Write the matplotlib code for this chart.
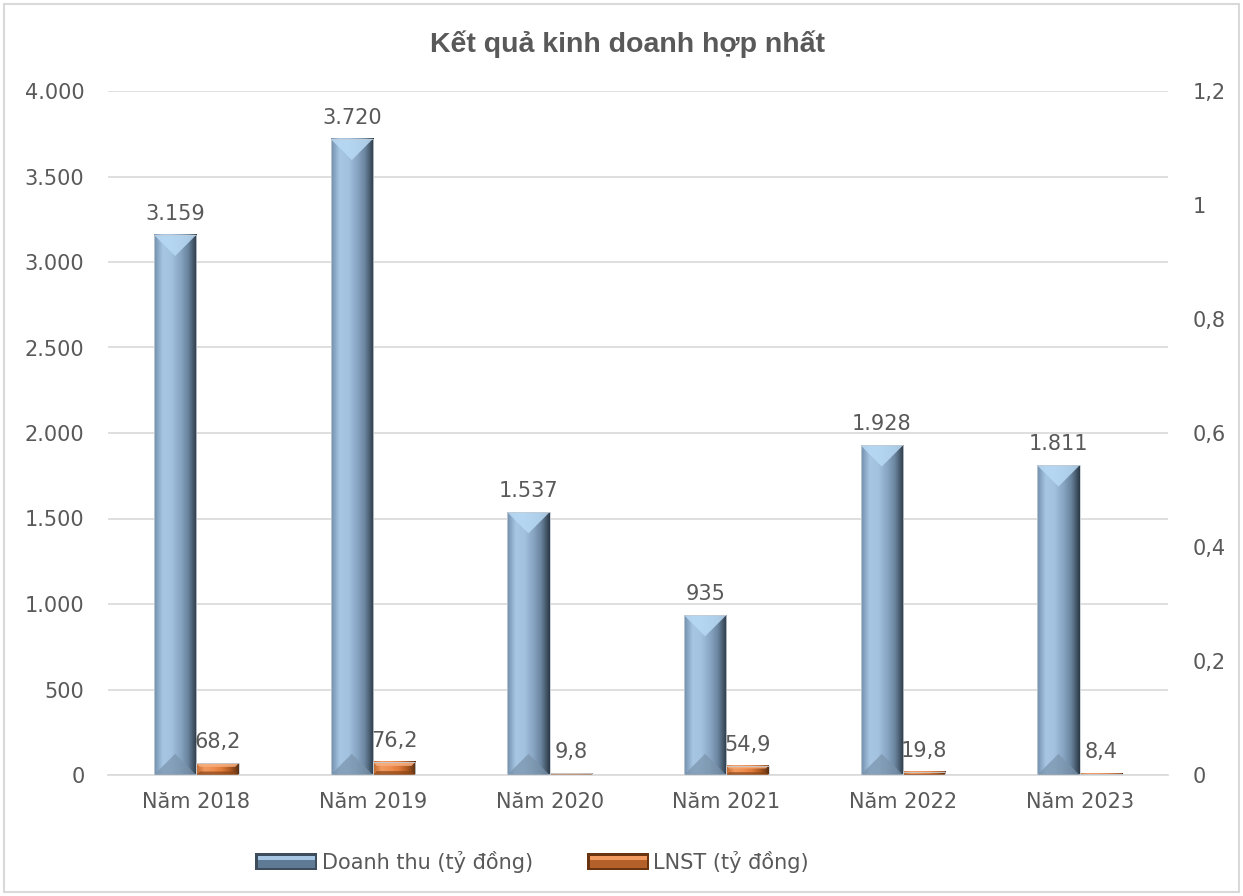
import numpy as np
import matplotlib
matplotlib.use('Agg')
import matplotlib.pyplot as plt
from matplotlib.patches import Polygon, Rectangle, Patch
from matplotlib.legend_handler import HandlerBase
from matplotlib.colors import to_rgb

plt.rcParams['font.family'] = ['DejaVu Sans']

years = ['Năm 2018', 'Năm 2019', 'Năm 2020', 'Năm 2021', 'Năm 2022', 'Năm 2023']
doanh_thu = [3159, 3720, 1537, 935, 1928, 1811]
lnst = [68.2, 76.2, 9.8, 54.9, 19.8, 8.4]
left_ticks = [0, 500, 1000, 1500, 2000, 2500, 3000, 3500, 4000]
right_ticks = [0, 0.2, 0.4, 0.6, 0.8, 1.0, 1.2]

TXT = '#595959'
GRID = '#d9d9d9'

# colour profile across a bar (left -> right), plus top / bottom bevel colours
blue_prof = ['#7390ac', '#a6c6e4', '#a2c2e0', '#8aa8c6', '#6a849e', '#2c3a47']
blue_top, blue_bot = '#b9daf5', '#7a93ab'
orange_prof = ['#c06a30', '#f29a60', '#ee8e50', '#e07c3c', '#b05a22', '#5a3014']
orange_top, orange_bot = '#f7b081', '#8a4516'

W, H = 1243, 896
fig = plt.figure(figsize=(W / 100, H / 100), dpi=100)
ax_l, ax_r, ax_b, ax_t = 108 / W, 1168 / W, 1 - 775 / H, 1 - 91 / H
ax = fig.add_axes([ax_l, ax_b, ax_r - ax_l, ax_t - ax_b])

x = np.arange(len(years))
bw = 0.24
ymax = 4000
ppx = (ax_r - ax_l) * W / len(years)   # pixels per x unit
ppy = (ax_t - ax_b) * H / ymax         # pixels per y unit


def make_grad(prof):
    cols = np.array([to_rgb(c) for c in prof])
    n = 64
    t = np.linspace(0, 1, n)
    pos = np.linspace(0, 1, len(prof))
    g = np.stack([np.interp(t, pos, cols[:, k]) for k in range(3)], axis=-1)
    return g[None, :, :]


def bevel_bar(x0, h, prof, top_c, bot_c):
    x1 = x0 + bw
    ax.imshow(make_grad(prof), extent=[x0, x1, 0, h], aspect='auto',
              interpolation='bilinear', zorder=2)
    b_px = min(bw * ppx / 2, h * ppy * 0.3)
    bx, by = b_px / ppx, b_px / ppy
    ax.add_patch(Polygon([(x0, h), (x1, h), (x1 - bx, h - by), (x0 + bx, h - by)],
                         closed=True, fc=top_c, ec='none', alpha=0.85, zorder=3))
    ax.add_patch(Polygon([(x0, 0), (x1, 0), (x1 - bx, by), (x0 + bx, by)],
                         closed=True, fc=bot_c, ec='none', alpha=0.7, zorder=3))
    ax.add_patch(Rectangle((x0, 0), bw, h, fc='none', ec='#c4ccd4', lw=0.6, zorder=4))


for i in range(len(years)):
    bevel_bar(x[i] - bw, doanh_thu[i], blue_prof, blue_top, blue_bot)
    bevel_bar(x[i], lnst[i], orange_prof, orange_top, orange_bot)
    ax.annotate(f'{doanh_thu[i]:,}'.replace(',', '.'), (x[i] - bw / 2, doanh_thu[i]),
                xytext=(0, 8), textcoords='offset points', ha='center', va='bottom',
                fontsize=15, color=TXT, zorder=5)
    ax.annotate(f'{lnst[i]:.1f}'.replace('.', ','), (x[i] + bw / 2, lnst[i]),
                xytext=(0, 8), textcoords='offset points', ha='center', va='bottom',
                fontsize=15, color=TXT, zorder=5)

ax.set_xlim(-0.5, len(years) - 0.5)
ax.set_ylim(0, ymax)
ax.set_yticks(left_ticks)
ax.set_yticklabels([f'{v:,}'.replace(',', '.') for v in left_ticks])
ax.set_xticks(x)
ax.set_xticklabels(years)
ax.tick_params(axis='y', length=0, pad=17, labelsize=15, labelcolor=TXT)
ax.tick_params(axis='x', length=0, pad=12, labelsize=15, labelcolor=TXT)
ax.grid(axis='y', color=GRID, lw=1.2, zorder=0)
ax.set_axisbelow(True)
for s in ['top', 'left', 'right']:
    ax.spines[s].set_visible(False)
ax.spines['bottom'].set_color(GRID)
ax.spines['bottom'].set_linewidth(1.2)

ax2 = ax.twinx()
ax2.set_ylim(0, 1.2)
ax2.set_yticks(right_ticks)
ax2.set_yticklabels([f'{v:g}'.replace('.', ',') for v in right_ticks])
ax2.tick_params(axis='y', length=0, pad=18, labelsize=15, labelcolor=TXT)
for s in ax2.spines.values():
    s.set_visible(False)

fig.suptitle('Kết quả kinh doanh hợp nhất', x=(ax_l + ax_r) / 2 - 10 / W, y=1 - 44 / H, va='center',
             fontsize=20.5, fontweight='bold', color=TXT, family='Liberation Sans')


class BevelHandler(HandlerBase):
    def __init__(self, mid, light, dark):
        super().__init__()
        self.mid, self.light, self.dark = mid, light, dark

    def create_artists(self, legend, orig_handle, xdescent, ydescent, width, height, fontsize, trans):
        x0, y0 = -xdescent, -ydescent
        e = 2.0
        arts = [Rectangle((x0, y0), width, height, fc=self.dark, ec='none', transform=trans),
                Rectangle((x0 + e, y0 + e), width - 2 * e, height - 2 * e, fc=self.mid, ec='none', transform=trans),
                Rectangle((x0 + e, y0 + height / 2 + 1), width - 2 * e, height / 2 - e - 1, fc=self.light, ec='none', transform=trans)]
        return arts


h1 = Patch(label='Doanh thu (tỷ đồng)')
h2 = Patch(label='LNST (tỷ đồng)')
fig.legend([h1, h2], ['Doanh thu (tỷ đồng)', 'LNST (tỷ đồng)'],
           handler_map={h1: BevelHandler('#5f7a94', '#a6c6e4', '#3d4d5c'),
                        h2: BevelHandler('#b3602a', '#f29a60', '#6a3410')},
           loc='center', bbox_to_anchor=(532 / W, 1 - 862 / H), ncol=2, frameon=False,
           fontsize=15, labelcolor=TXT, handlelength=3.0, handleheight=0.9,
           handletextpad=0.2, columnspacing=2.6)

fig.add_artist(Rectangle((4 / W, 4 / H), 1 - 8 / W, 1 - 8 / H, transform=fig.transFigure,
                         fc='none', ec=GRID, lw=1.5))

fig.savefig('out.png', dpi=100)
